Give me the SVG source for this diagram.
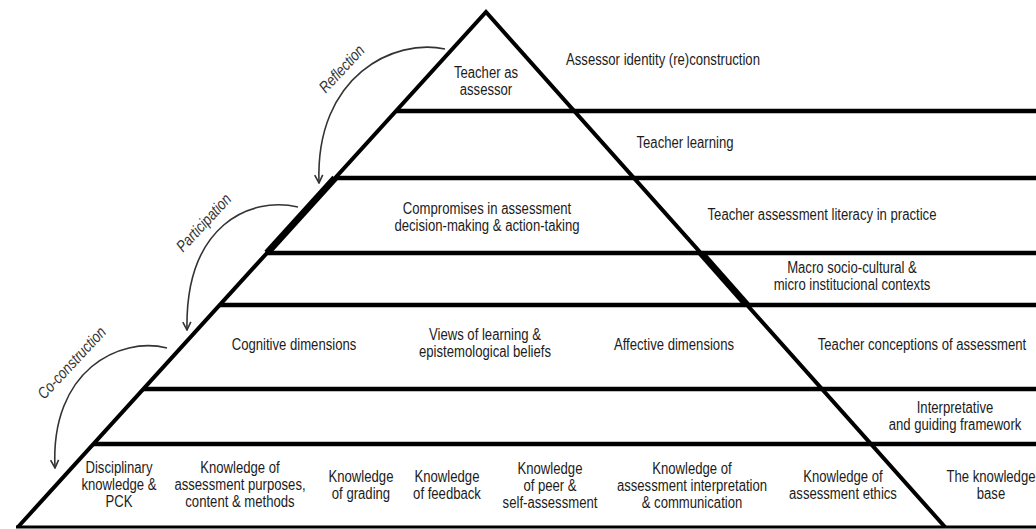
<svg xmlns="http://www.w3.org/2000/svg" width="1036" height="529" viewBox="0 0 1036 529">
<style>
text { font-family: "Liberation Sans", Arial, sans-serif; font-size: 16px; fill: #1c1c1c; text-anchor: middle; }
.lbl { font-style: italic; fill: #333; }
.band { stroke: #000; stroke-width: 4.5; fill: none; }
.edge { stroke: #000; stroke-width: 4; fill: none; stroke-linejoin: miter; }
.thick { stroke: #000; stroke-width: 7; fill: none; }
.base { stroke: #000; stroke-width: 3; fill: none; }
.arc { stroke: #333; stroke-width: 1.6; fill: none; marker-end: url(#ah); }
</style>
<defs>
<marker id="ah" viewBox="0 0 10 10" refX="9" refY="5" markerWidth="10" markerHeight="10" orient="auto" markerUnits="userSpaceOnUse">
<path d="M1,1 L9,5 L1,9" fill="none" stroke="#333" stroke-width="1.6"/>
</marker>
</defs>
<rect x="0" y="0" width="1036" height="529" fill="#fff"/>

<g id="pyramid">
<path class="edge" d="M18,527 L486,12 L945,527"/>
<path class="thick" d="M335,178 L267,253"/>
<path class="thick" d="M701,253 L747,305"/>
<path class="base" d="M16,527 H1036"/>
<path class="band" d="M396,111 H1036"/>
<path class="band" d="M335,178 H1036"/>
<path class="band" d="M267,253 H1036"/>
<path class="band" d="M220,305 H1036"/>
<path class="band" d="M143,389 H1036"/>
<path class="band" d="M93,444 H1036"/>
</g>

<g id="connectors">
<path class="arc" d="M445,49 C395,38 315,75 319,183"/>
<path class="arc" d="M298,207 C250,196 185,225 187,330"/>
<path class="arc" d="M167,348 C120,336 50,370 55,468"/>
</g>

<g id="label-reflection"><text class="lbl" transform="translate(342,69) rotate(-47) scale(0.82,1)" x="0" y="5">Reflection</text></g>
<g id="label-participation"><text class="lbl" transform="translate(204,223) rotate(-47) scale(0.82,1)" x="0" y="5">Participation</text></g>
<g id="label-coconstruction"><text class="lbl" transform="translate(72,363) rotate(-47) scale(0.82,1)" x="0" y="5">Co-construction</text></g>

<g id="tier-assessor" transform="scale(0.82,1)">
<text x="592.68" y="78">Teacher as</text>
<text x="592.68" y="95">assessor</text>
<text x="808.54" y="65">Assessor identity (re)construction</text>
</g>
<g id="tier-learning" transform="scale(0.82,1)">
<text x="835.37" y="148">Teacher learning</text>
</g>
<g id="tier-practice" transform="scale(0.82,1)">
<text x="593.90" y="214">Compromises in assessment</text>
<text x="593.90" y="231">decision-making &amp; action-taking</text>
<text x="1002.44" y="220">Teacher assessment literacy in practice</text>
</g>
<g id="tier-contexts" transform="scale(0.82,1)">
<text x="1039.02" y="273">Macro socio-cultural &amp;</text>
<text x="1039.02" y="290">micro institucional contexts</text>
</g>
<g id="tier-conceptions" transform="scale(0.82,1)">
<text x="358.54" y="350">Cognitive dimensions</text>
<text x="591.46" y="340">Views of learning &amp;</text>
<text x="591.46" y="357">epistemological beliefs</text>
<text x="821.95" y="350">Affective dimensions</text>
<text x="1124.39" y="350">Teacher conceptions of assessment</text>
</g>
<g id="tier-framework" transform="scale(0.82,1)">
<text x="1164.63" y="413">Interpretative</text>
<text x="1164.63" y="430">and guiding framework</text>
</g>
<g id="tier-knowledge" transform="scale(0.82,1)">
<text x="145.12" y="473">Disciplinary</text>
<text x="145.12" y="490">knowledge &amp;</text>
<text x="145.12" y="507">PCK</text>
<text x="292.68" y="473">Knowledge of</text>
<text x="292.68" y="490">assessment purposes,</text>
<text x="292.68" y="507">content &amp; methods</text>
<text x="440.24" y="482">Knowledge</text>
<text x="440.24" y="499">of grading</text>
<text x="545.12" y="482">Knowledge</text>
<text x="545.12" y="499">of feedback</text>
<text x="670.73" y="474">Knowledge</text>
<text x="670.73" y="491">of peer &amp;</text>
<text x="670.73" y="508">self-assessment</text>
<text x="843.90" y="474">Knowledge of</text>
<text x="843.90" y="491">assessment interpretation</text>
<text x="843.90" y="508">&amp; communication</text>
<text x="1028.05" y="482">Knowledge of</text>
<text x="1028.05" y="499">assessment ethics</text>
<text x="1208.54" y="482">The knowledge</text>
<text x="1208.54" y="499">base</text>
</g>
</svg>
